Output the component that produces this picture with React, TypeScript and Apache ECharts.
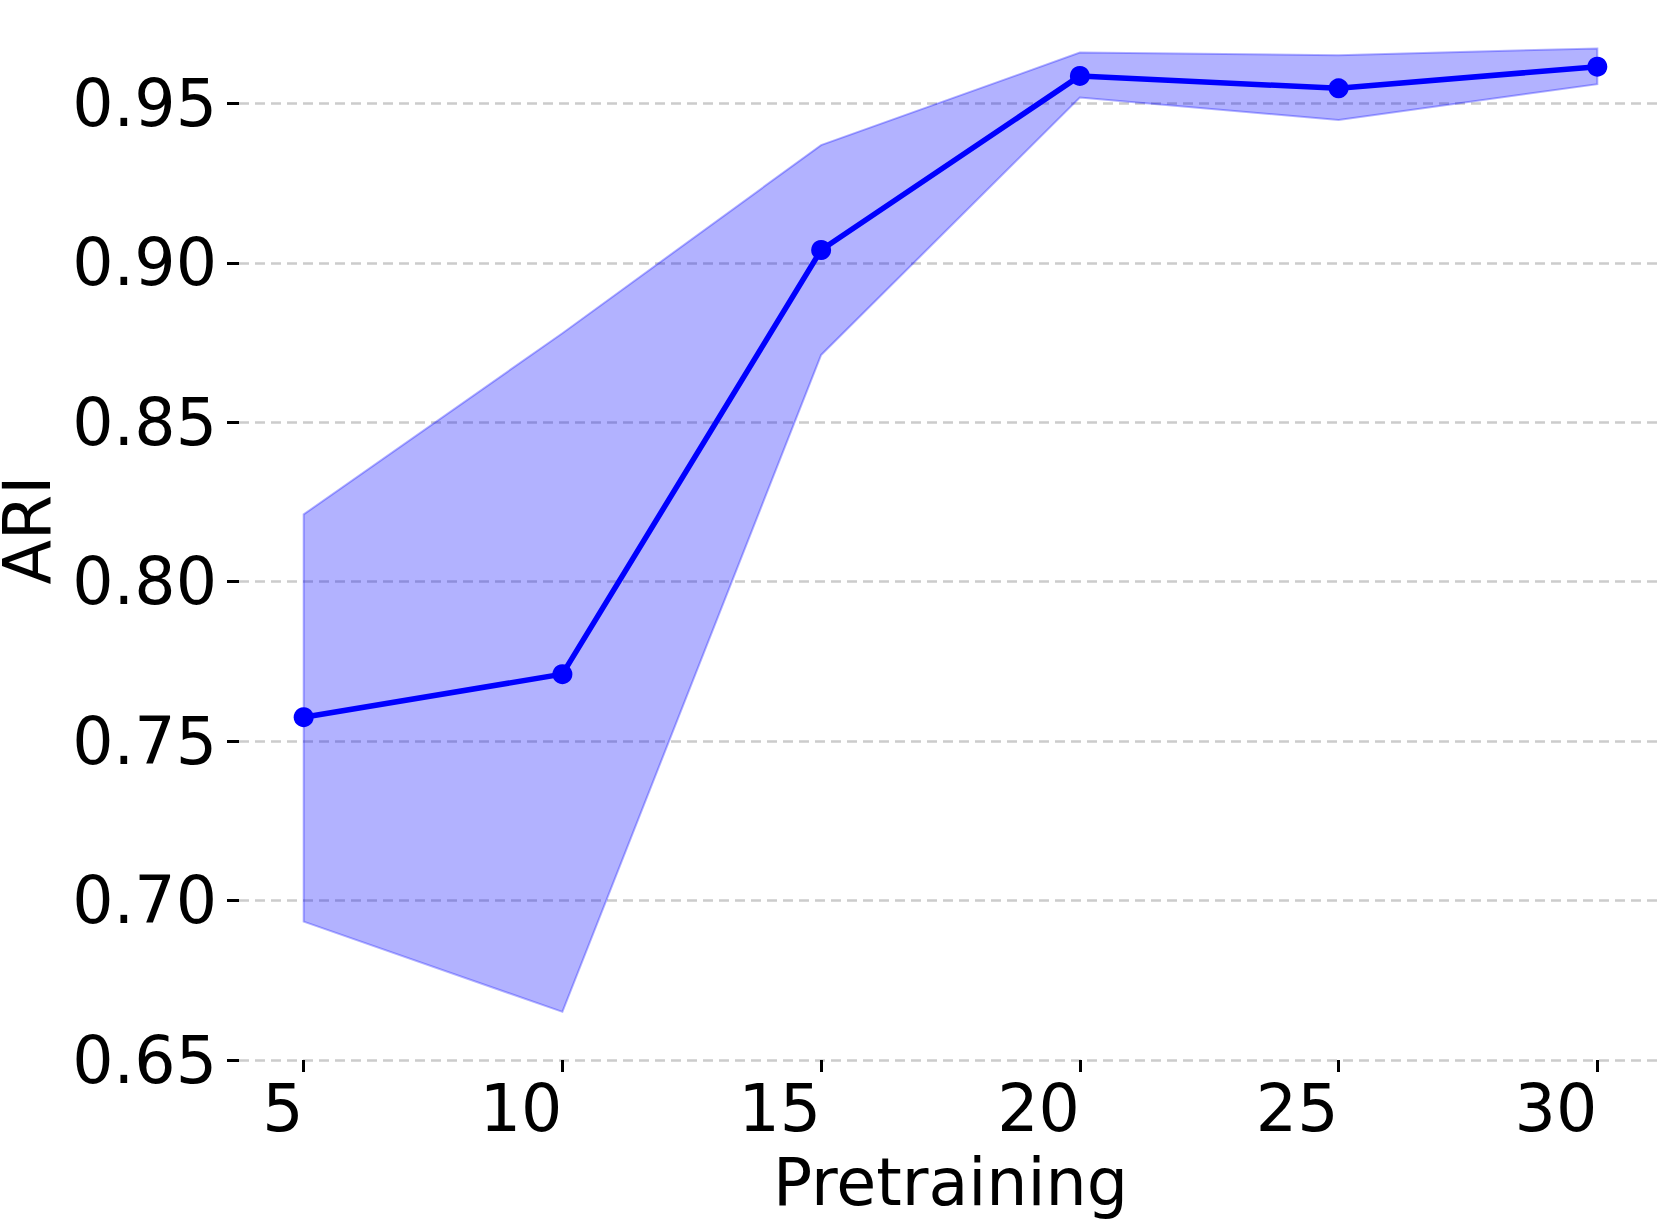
import React, { useEffect, useRef } from "react";
import * as echarts from "echarts";

const pretraining = [5, 10, 15, 20, 25, 30];
const ariMean = [0.7575, 0.771, 0.904, 0.9586, 0.9547, 0.9615];
const ariUpper = [0.8211, 0.8779, 0.9369, 0.9659, 0.9651, 0.9672];
const ariLower = [0.6934, 0.6651, 0.8711, 0.9518, 0.9448, 0.956];
const xTicks = [5, 10, 15, 20, 25, 30];
const yTicks = [0.65, 0.7, 0.75, 0.8, 0.85, 0.9, 0.95];

const FONT = "DejaVu Sans";
const FS = 65;

export default function App() {
  const ref = useRef<HTMLDivElement>(null);
  useEffect(() => {
    if (!ref.current) return;
    const chart = echarts.init(ref.current, null, { renderer: "svg" });
    chart.setOption({
      animation: false,
      backgroundColor: "#ffffff",
      grid: {
        left: 239,
        right: 0,
        top: 0,
        bottom: 159,
        containLabel: false,
        outerBoundsMode: "none",
      },
      xAxis: {
        type: "value",
        min: 3.75,
        max: 31.25,
        name: "Pretraining",
        nameLocation: "middle",
        nameGap: 90,
        nameMoveOverlap: false,
        nameTextStyle: { fontFamily: FONT, fontSize: FS, color: "#000" },
        axisLine: { show: false },
        axisTick: {
          show: true,
          length: 12,
          lineStyle: { color: "#000", width: 3 },
          customValues: xTicks,
        },
        axisLabel: {
          fontFamily: FONT,
          fontSize: FS,
          color: "#000",
          margin: 16,
          align: "right",
          customValues: xTicks,
          formatter: (v: number) => String(v),
        },
        splitLine: { show: false },
      },
      yAxis: {
        type: "value",
        min: 0.65,
        max: 0.9824,
        name: "ARI",
        nameLocation: "middle",
        nameGap: 182,
        nameRotate: 90,
        nameMoveOverlap: false,
        nameTextStyle: { fontFamily: FONT, fontSize: FS, color: "#000", lineHeight: 60 },
        axisLine: { show: false },
        axisTick: {
          show: true,
          length: 12,
          lineStyle: { color: "#000", width: 3 },
          customValues: yTicks,
        },
        axisLabel: {
          fontFamily: FONT,
          fontSize: FS,
          color: "#000",
          margin: 22,
          customValues: yTicks,
          formatter: (v: number) => v.toFixed(2),
        },
        splitLine: {
          show: true,
          lineStyle: { color: "#cccccc", width: 2.5, type: [10, 6] },
        },
      },
      series: [
        {
          type: "custom",
          z: 1,
          silent: true,
          data: [[pretraining[0], ariLower[0]]],
          renderItem: (_params: any, api: any) => {
            const pts: number[][] = [];
            for (let i = 0; i < pretraining.length; i++) {
              pts.push(api.coord([pretraining[i], ariUpper[i]]));
            }
            for (let i = pretraining.length - 1; i >= 0; i--) {
              pts.push(api.coord([pretraining[i], ariLower[i]]));
            }
            return {
              type: "polygon",
              shape: { points: pts },
              style: {
                fill: "rgba(0,0,255,0.3)",
                stroke: "rgba(0,0,255,0.3)",
                lineWidth: 2,
              },
            };
          },
        },
        {
          type: "line",
          z: 3,
          data: pretraining.map((x, i) => [x, ariMean[i]]),
          symbol: "circle",
          symbolSize: 20,
          itemStyle: { color: "#0000ff" },
          lineStyle: { color: "#0000ff", width: 5.5 },
        },
      ],
    });
    return () => chart.dispose();
  }, []);
  return (
    <div
      ref={ref}
      style={{ position: "absolute", left: 0, top: 0, width: 1662, height: 1219 }}
    />
  );
}
